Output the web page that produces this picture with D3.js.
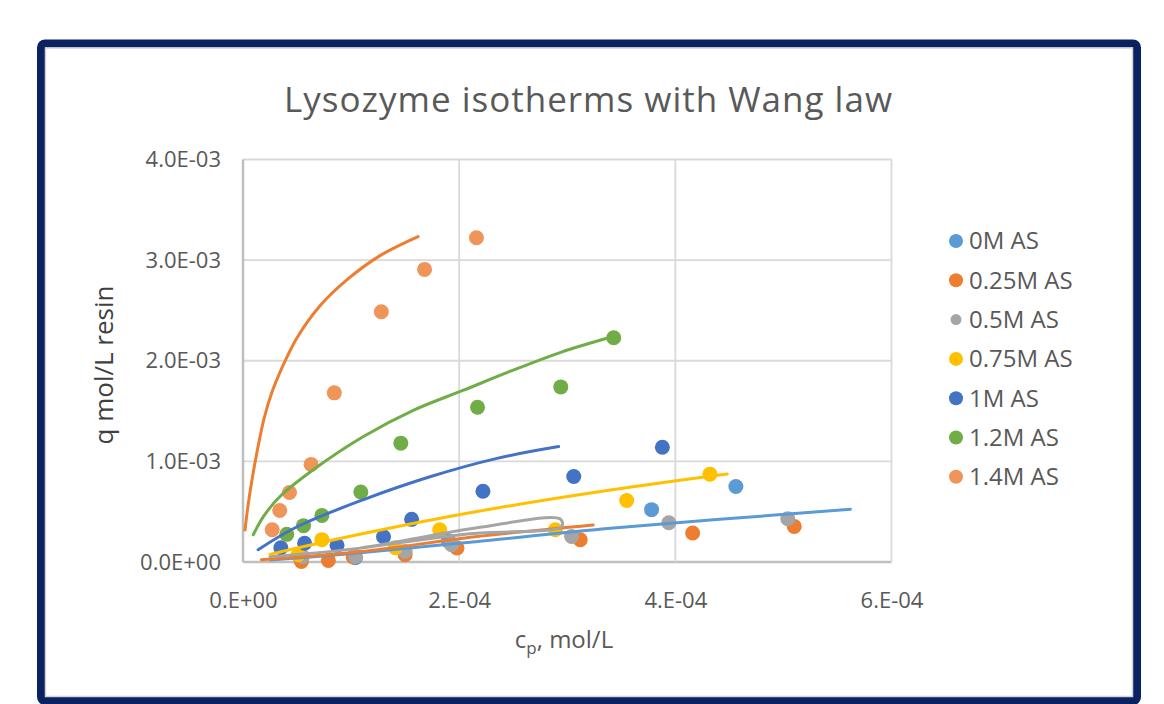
<!DOCTYPE html>
<html>
<head>
<meta charset="utf-8">
<script src="https://cdnjs.cloudflare.com/ajax/libs/d3/7.8.5/d3.min.js"></script>
<style>
	body { margin: 0; background: #fff; }
	text { font-family: "Open Sans", sans-serif; fill: #595959; }
</style>
</head>
<body>
<div id="vis"></div>
<script>

// measured points, [c_p mol/L, q mol/L resin]
var pts0M = [[5.3e-5, 4.0e-5], [1.04e-4, 4.2e-5], [1.90e-4, 2.1e-4], [3.78e-4, 5.2e-4], [4.56e-4, 7.5e-4]];
var pts025M = [[5.4e-5, 6e-6], [7.9e-5, 1.6e-5], [1.02e-4, 5.0e-5], [1.50e-4, 7.2e-5], [1.98e-4, 1.39e-4], [3.12e-4, 2.21e-4], [4.16e-4, 2.88e-4], [5.10e-4, 3.54e-4]];
var pts05M = [[5.5e-5, 5.5e-5], [1.04e-4, 5.6e-5], [1.50e-4, 1.05e-4], [1.93e-4, 1.72e-4], [3.04e-4, 2.54e-4], [3.94e-4, 3.90e-4], [5.04e-4, 4.30e-4]];
var pts075M = [[5.1e-5, 7.2e-5], [7.3e-5, 2.22e-4], [1.41e-4, 1.41e-4], [1.82e-4, 3.20e-4], [2.89e-4, 3.20e-4], [3.55e-4, 6.11e-4], [4.32e-4, 8.73e-4]];
var pts1M = [[3.5e-5, 1.41e-4], [5.7e-5, 1.86e-4], [8.7e-5, 1.66e-4], [1.30e-4, 2.51e-4], [1.56e-4, 4.24e-4], [2.22e-4, 7.03e-4], [3.06e-4, 8.49e-4], [3.88e-4, 1.141e-3]];
var pts12M = [[4.05e-5, 2.75e-4], [5.6e-5, 3.61e-4], [7.3e-5, 4.63e-4], [1.09e-4, 6.95e-4], [1.46e-4, 1.181e-3], [2.17e-4, 1.538e-3], [2.94e-4, 1.740e-3], [3.43e-4, 2.229e-3]];
var pts14M = [[2.7e-5, 3.21e-4], [3.4e-5, 5.12e-4], [4.3e-5, 6.90e-4], [6.3e-5, 9.70e-4], [8.45e-5, 1.681e-3], [1.28e-4, 2.487e-3], [1.68e-4, 2.908e-3], [2.16e-4, 3.222e-3]];

// Wang law fit curves
var fit0M = [[2.5e-5, 2.0e-5], [1.04e-4, 8.7e-5], [2.15e-4, 2.02e-4], [3.40e-4, 3.35e-4], [5.62e-4, 5.24e-4]];
var fit025M = [[1.7e-5, 2.3e-5], [1.08e-4, 1.02e-4], [2.15e-4, 2.51e-4], [3.24e-4, 3.68e-4]];
var fit05M = [[2.5e-5, 5.4e-5], [1.08e-4, 1.38e-4], [2.15e-4, 3.37e-4], [2.935e-4, 4.27e-4], [2.95e-4, 3.54e-4], [2.10e-4, 2.80e-4], [1.08e-4, 1.36e-4]];
var fit075M = [[2.5e-5, 7.6e-5], [1.08e-4, 2.75e-4], [2.15e-4, 4.99e-4], [3.40e-4, 7.15e-4], [4.48e-4, 8.74e-4]];
var fit1M = [[1.4e-5, 1.22e-4], [5.0e-5, 3.50e-4], [1.11e-4, 6.18e-4], [1.73e-4, 8.47e-4], [2.35e-4, 1.030e-3], [2.92e-4, 1.147e-3]];
var fit12M = [[9.5e-6, 2.71e-4], [1.9e-5, 4.53e-4], [3.4e-5, 6.48e-4], [6.5e-5, 9.16e-4], [1.11e-4, 1.244e-3], [1.58e-4, 1.509e-3], [2.04e-4, 1.707e-3], [2.50e-4, 1.906e-3], [2.94e-4, 2.084e-3], [3.40e-4, 2.233e-3]];
var fit14M = [[1.85e-6, 3.18e-4], [4.6e-6, 5.57e-4], [8.3e-6, 8.16e-4], [1.30e-5, 1.095e-3], [1.94e-5, 1.423e-3], [2.69e-5, 1.692e-3], [3.52e-5, 1.910e-3], [5.0e-5, 2.229e-3], [7.13e-5, 2.547e-3], [9.63e-5, 2.806e-3], [1.268e-4, 3.045e-3], [1.62e-4, 3.234e-3]];

var seriesNames = ["0M AS", "0.25M AS", "0.5M AS", "0.75M AS", "1M AS", "1.2M AS", "1.4M AS"];
var pointColors = ["#5B9BD5", "#ED7D31", "#A5A5A5", "#FFC000", "#4472C4", "#70AD47", "#F0955A"];
var fitColors = ["#5B9BD5", "#ED7D31", "#A5A5A5", "#FFC000", "#4472C4", "#70AD47", "#ED7D31"];

var xTicks = [0, 2e-4, 4e-4, 6e-4],
	xTickLabels = ["0.E+00", "2.E-04", "4.E-04", "6.E-04"];
var yTicks = [0, 1e-3, 2e-3, 3e-3, 4e-3],
	yTickLabels = ["0.0E+00", "1.0E-03", "2.0E-03", "3.0E-03", "4.0E-03"];

var points = [pts0M, pts025M, pts05M, pts075M, pts1M, pts12M, pts14M];
var fits = [fit0M, fit025M, fit05M, fit075M, fit1M, fit12M, fit14M];

var width = 1164,
	height = 704;

var plot = {left: 243, right: 891.5, top: 159.5, bottom: 562};

var x = d3.scaleLinear().domain([0, 6e-4]).range([plot.left, plot.right]),
	y = d3.scaleLinear().domain([0, 4e-3]).range([plot.bottom, plot.top]);

var svg = d3.select('#vis')
	.append('svg')
	.attr('width', width)
	.attr('height', height);

// frame
svg.append('rect')
	.attr('x', 41).attr('y', 43.5)
	.attr('width', 1096).attr('height', 657.5)
	.attr('rx', 4)
	.style('fill', '#fff')
	.style('stroke', '#0B2262')
	.style('stroke-width', 8);

svg.append('rect')
	.attr('x', 45.5).attr('y', 48)
	.attr('width', 1087).attr('height', 648.5)
	.style('fill', 'none')
	.style('stroke', '#D4D4D4')
	.style('stroke-width', 1.5);

svg.append('text')
	.attr('x', 588)
	.attr('y', 112)
	.attr('text-anchor', 'middle')
	.attr('textLength', 608)
	.attr('lengthAdjust', 'spacing')
	.style('font-size', '35px')
	.text('Lysozyme isotherms with Wang law');

// grid
var grid = svg.append('g');

grid.selectAll('line.h')
	.data(yTicks)
	.enter()
	.append('line')
	.attr('x1', plot.left).attr('x2', plot.right)
	.attr('y1', function(d) { return y(d); })
	.attr('y2', function(d) { return y(d); })
	.style('stroke', function(d) { return d === 0 ? '#BFBFBF' : '#D9D9D9'; })
	.style('stroke-width', function(d) { return d === 0 ? 2.5 : 1.8; });

grid.selectAll('line.v')
	.data(xTicks)
	.enter()
	.append('line')
	.attr('y1', plot.top).attr('y2', plot.bottom)
	.attr('x1', function(d) { return x(d); })
	.attr('x2', function(d) { return x(d); })
	.style('stroke', function(d) { return d === 0 ? '#BFBFBF' : '#D9D9D9'; })
	.style('stroke-width', function(d) { return d === 0 ? 2.5 : 1.8; });

// axes (labels only, Excel style)
var yAxis = svg.append('g')
	.attr('transform', 'translate(' + (plot.left - 22) + ',0)')
	.call(d3.axisLeft(y).tickValues(yTicks).tickSize(0).tickPadding(0)
		.tickFormat(function(d, i) { return yTickLabels[i]; }));

var xAxis = svg.append('g')
	.attr('transform', 'translate(0,' + (plot.bottom + 38) + ')')
	.call(d3.axisBottom(x).tickValues(xTicks).tickSize(0).tickPadding(0)
		.tickFormat(function(d, i) { return xTickLabels[i]; }));

[yAxis, xAxis].forEach(function(a) {
	a.select('.domain').remove();
	a.selectAll('text')
		.style('font-size', '22px')
		.style('font-family', '"Open Sans", sans-serif')
		.style('fill', '#595959');
});
xAxis.selectAll('text').attr('dy', '0.35em');

svg.append('text')
	.attr('transform', 'translate(113,365) rotate(-90)')
	.attr('text-anchor', 'middle')
	.style('font-size', '26px')
	.style('fill', '#404040')
	.text('q mol/L resin');

var xt = svg.append('text')
	.attr('x', 564)
	.attr('y', 648)
	.attr('text-anchor', 'middle')
	.style('font-size', '24px');
xt.append('tspan').text('c');
xt.append('tspan').attr('dy', 6).style('font-size', '17px').text('p');
xt.append('tspan').attr('dy', -6).text(', mol/L');

// points
var dots = svg.append('g');
points.forEach(function(s, i) {
	dots.selectAll('circle.s' + i)
		.data(s)
		.enter()
		.append('circle')
		.attr('cx', function(d) { return x(d[0]); })
		.attr('cy', function(d) { return y(d[1]); })
		.attr('r', 7.5)
		.style('fill', pointColors[i]);
});

// fit lines
var line = d3.line()
	.x(function(d) { return x(d[0]); })
	.y(function(d) { return y(d[1]); })
	.curve(d3.curveCatmullRom.alpha(0.5));

svg.append('g')
	.selectAll('path')
	.data(fits)
	.enter()
	.append('path')
	.attr('d', line)
	.style('fill', 'none')
	.style('stroke', function(d, i) { return fitColors[i]; })
	.style('stroke-width', 3)
	.style('stroke-linecap', 'round')
	.style('stroke-linejoin', 'round');

// legend
var legend = svg.append('g')
	.selectAll('g')
	.data(seriesNames)
	.enter()
	.append('g')
	.attr('transform', function(d, i) { return 'translate(956,' + (241 + i * 39.3) + ')'; });

legend.append('circle')
	.attr('r', function(d, i) { return i === 2 ? 5.5 : 7; })
	.style('fill', function(d, i) { return pointColors[i]; });

legend.append('text')
	.attr('x', 13)
	.attr('dy', '0.35em')
	.style('font-size', '24px')
	.text(function(d) { return d; });

</script>
</body>
</html>
